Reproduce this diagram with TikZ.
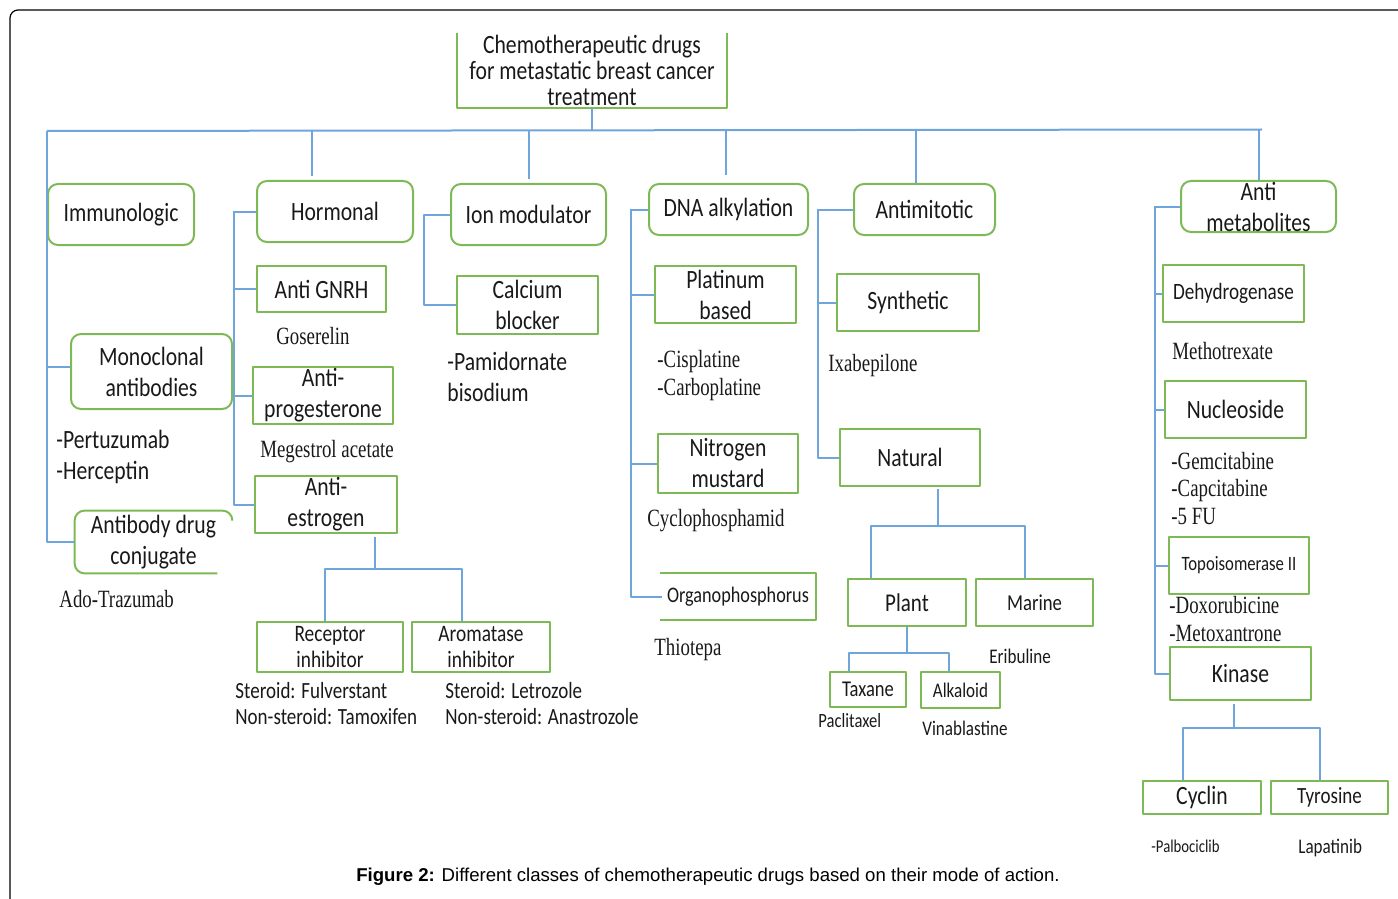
\documentclass[tikz,border=0pt]{standalone}
\usepackage{fontspec}
\setmainfont{Liberation Sans}
\newfontfamily\calfont[FakeStretch=0.82]{Carlito}
\newfontfamily\tnrfont[FakeStretch=0.76]{Liberation Serif}
\newcommand\fsz[2]{\calfont\fontsize{#1}{#2}\selectfont}
\definecolor{boxgreen}{RGB}{125,185,85}
\definecolor{linkblue}{RGB}{110,165,220}
\definecolor{txt}{RGB}{25,25,25}
\begin{document}
\begin{tikzpicture}[x=0.5pt, y=-0.5pt, line join=round,
    every node/.style={text=txt},
    cat/.style={draw=boxgreen, line width=1pt, rounded corners=5pt, align=center, inner sep=0pt, font=\fsz{13.2}{15.5}},
    sub/.style={draw=boxgreen, line width=1pt, align=center, inner sep=0pt, font=\fsz{13.2}{15.5}},
    link/.style={draw=linkblue, line width=1pt},
    drug/.style={anchor=west, align=left, inner sep=0pt, font=\tnrfont\fontsize{12.4}{14}\selectfont},
    note/.style={anchor=west, align=left, inner sep=0pt, font=\fsz{13.2}{15.5}}]
  \useasboundingbox (0,0) rectangle (1398,899);
  \draw[line width=0.6pt, rounded corners=4pt] (10,960) -- (10,10) -- (1460,10);

  % root and main classes
  \node[inner sep=0pt, align=center, minimum width=135pt, minimum height=37.5pt, font=\fsz{13.2}{13}] (root) at (592,70.5)
    {Chemotherapeutic drugs\\for metastatic breast cancer\\treatment};
  \draw[boxgreen, line width=1pt] (root.north west) |- (root.south east) -- (root.north east);
  \node[cat, minimum width=73pt, minimum height=30.5pt] (imm) at (121,214.5) {Immunologic};
  \node[cat, minimum width=78pt, minimum height=30.5pt] (hor) at (335,211.5) {Hormonal};
  \node[cat, minimum width=77.5pt, minimum height=30.5pt] (ion) at (528.5,214.5) {Ion modulator};
  \node[cat, minimum width=79.5pt, minimum height=25.5pt] (dna) at (728.5,209.5) {DNA alkylation};
  \node[cat, minimum width=70.5pt, minimum height=25.5pt] (amit) at (924.5,209.5) {Antimitotic};
  \node[cat, minimum width=77.5pt, minimum height=25.5pt, inner ysep=-3pt] (amet) at (1258.5,206.5) {Anti\\metabolites};

  % immunologic
  \node[cat, minimum width=80.5pt, minimum height=37.5pt] (mono) at (151.5,371.5) {Monoclonal\\antibodies};
  \node[inner sep=0pt, align=center, minimum width=78.5pt, minimum height=31pt, font=\fsz{13.2}{15.5}] (adc) at (153.5,542) {Antibody drug\\conjugate};
  \draw[boxgreen, line width=1pt, rounded corners=5pt] ([xshift=-7.5pt]adc.south east) -- (adc.south west) -- (adc.north west) -- (adc.north east) -- ([yshift=-5pt]adc.north east);
  \node[note] (pert) at (56,456.5) {-Pertuzumab\\-Herceptin};
  \node[drug] (ado) at (59,599) {Ado-Trazumab};

  % hormonal
  \node[sub, minimum width=64.5pt, minimum height=23pt] (gnrh) at (321.5,289) {Anti GNRH};
  \node[sub, minimum width=70pt, minimum height=28.5pt] (aprog) at (323,395.5) {Anti-\\progesterone};
  \node[sub, minimum width=71pt, minimum height=28.5pt] (aestr) at (326,504.5) {Anti-\\estrogen};
  \node[drug, anchor=center] (gos) at (313,336) {Goserelin};
  \node[drug, anchor=center] (meg) at (327,452) {Megestrol acetate};
  \node[sub, minimum width=73pt, minimum height=25pt, font=\fsz{11.8}{13}] (rec) at (330,647) {Receptor\\inhibitor};
  \node[sub, minimum width=69pt, minimum height=25pt, font=\fsz{11.8}{13}] (arom) at (481,647) {Aromatase\\inhibitor};
  \node[note, font=\fsz{11.6}{13}] (ster1) at (235,704) {Steroid: Fulverstant\\Non-steroid: Tamoxifen};
  \node[note, font=\fsz{11.6}{13}] (ster2) at (445,704) {Steroid: Letrozole\\Non-steroid: Anastrozole};

  % ion modulator
  \node[sub, minimum width=70.5pt, minimum height=29pt] (calc) at (527.5,305) {Calcium\\blocker};
  \node[note] (pam) at (447,376.5) {-Pamidornate\\bisodium};

  % DNA alkylation
  \node[sub, minimum width=70.5pt, minimum height=28.5pt] (plat) at (725.5,294.5) {Platinum\\based};
  \node[sub, minimum width=70pt, minimum height=29.5pt] (nitro) at (728,463.5) {Nitrogen\\mustard};
  \node[inner sep=0pt, minimum width=76pt, minimum height=23.5pt, font=\fsz{11.1}{13}] (organo) at (738,596.5) {Organophosphorus};
  \draw[boxgreen, line width=1pt] ([xshift=-1pt]organo.north west) -- ([xshift=1pt]organo.north east) |- ([xshift=-1pt]organo.south west);
  \node[drug] (cis) at (657,376) {-Cisplatine\\-Carboplatine};
  \node[drug] (cyclo) at (647,521) {Cyclophosphamid};
  \node[drug] (thio) at (654,650) {Thiotepa};

  % antimitotic
  \node[sub, minimum width=71pt, minimum height=28.5pt] (syn) at (908,302.5) {Synthetic};
  \node[sub, minimum width=70pt, minimum height=28.5pt] (nat) at (910,457.5) {Natural};
  \node[drug] (ixa) at (828,366) {Ixabepilone};
  \node[sub, minimum width=59pt, minimum height=23.5pt, font=\fsz{12.8}{15}] (plant) at (907,602.5) {Plant};
  \node[sub, minimum width=58.5pt, minimum height=23.5pt, font=\fsz{11.4}{13}] (marine) at (1034.5,602.5) {Marine};
  \node[sub, minimum width=38pt, minimum height=17.5pt, font=\fsz{11.3}{13}] (taxane) at (868,689.5) {Taxane};
  \node[sub, minimum width=39.5pt, minimum height=18pt, font=\fsz{10.4}{13}] (alk) at (960.5,690) {Alkaloid};
  \node[note, font=\fsz{10.4}{13}] (erib) at (989,656) {Eribuline};
  \node[note, font=\fsz{10.1}{13}] (pacl) at (818,721) {Paclitaxel};
  \node[note, font=\fsz{10.4}{13}] (vinb) at (922,728) {Vinablastine};

  % anti metabolites
  \node[sub, minimum width=70.5pt, minimum height=28.5pt, font=\fsz{11.7}{13}] (dehyd) at (1233.5,293.5) {Dehydrogenase};
  \node[sub, minimum width=70.5pt, minimum height=28.5pt] (nucl) at (1235.5,409.5) {Nucleoside};
  \node[sub, minimum width=70pt, minimum height=28.5pt, font=\fsz{10.2}{13}] (topo) at (1239,565.5) {Topoisomerase II};
  \node[sub, minimum width=70.5pt, minimum height=26.5pt] (kin) at (1240.5,673.5) {Kinase};
  \node[sub, minimum width=59pt, minimum height=16.5pt] (cyc) at (1202,797.5) {Cyclin};
  \node[sub, minimum width=58.5pt, minimum height=16.5pt, font=\fsz{11.6}{13}] (tyr) at (1329.5,797.5) {Tyrosine};
  \node[drug] (metho) at (1172,351) {Methotrexate};
  \node[drug, font=\tnrfont\fontsize{12.4}{13.75}\selectfont] (gem) at (1171,488.5) {-Gemcitabine\\-Capcitabine\\-5 FU};
  \node[drug] (doxo) at (1169,619) {-Doxorubicine\\-Metoxantrone};
  \node[note, font=\fsz{9}{11}] (palbo) at (1151,846) {-Palbociclib};
  \node[note, font=\fsz{10.4}{13}] (lapa) at (1298,848) {Lapatinib};

  % main bus
  \coordinate (busL) at (47,131);
  \coordinate (busR) at (1262,129.5);
  \draw[link] (busL) -- (busR);
  \draw[link] (root.south) -- (root.south |- busL);
  \draw[link] ([xshift=-11.5pt]hor.north) ++(0,-4) -- ([xshift=-11.5pt]hor.north |- busL);
  \draw[link] ([yshift=2pt]ion.north) -- (ion.north |- busL);
  \draw[link] ([xshift=-1.5pt, yshift=4pt]dna.north) -- ([xshift=-1.5pt]dna.north |- busL);
  \draw[link] ([xshift=-4.5pt]amit.north) -- ([xshift=-4.5pt]amit.north |- busL);
  \draw[link] (amet.north) -- (amet.north |- busR);

  % branches of each class
  \draw[link] (busL) |- (adc.west);
  \draw[link] ([yshift=2.5pt]mono.west) -- ([yshift=2.5pt]mono.west -| busL);
  \foreach \c in {gnrh,aprog,aestr} \draw[link] (hor.west) -- ++(-22,0) |- (\c.west);
  \draw[link] (ion.west) -- ++(-26,0) |- (calc.west);
  \foreach \c in {plat,nitro,organo} \draw[link] (dna.west) -- ++(-17,0) |- (\c.west);
  \foreach \c in {syn,nat} \draw[link] (amit.west) -- ++(-35,0) |- (\c.west);
  \foreach \c in {dehyd,nucl,topo,kin} \draw[link] (amet.west) -- ++(-25,0) |- (\c.west);

  % T-bars
  \coordinate (aebar) at (375,569);
  \draw[link] (aebar) -- ++(0,-32);
  \draw[link] ([xshift=-2.5pt]rec.north) |- (aebar) -| ([xshift=-9.5pt]arom.north);
  \coordinate (natbar) at (938,526);
  \draw[link] (natbar) -- ++(0,-37);
  \draw[link] ([xshift=-18pt]plant.north) |- (natbar) -| ([xshift=-4.75pt]marine.north);
  \coordinate (plbar) at (907,653);
  \draw[link] (plant.south) -- (plbar);
  \draw[link] ([xshift=-9.5pt]taxane.north) |- (plbar) -| ([xshift=-5.75pt]alk.north);
  \coordinate (kibar) at (1234,728);
  \draw[link] (kibar) -- ++(0,-24);
  \draw[link] ([xshift=-9.5pt]cyc.north) |- (kibar) -| ([xshift=-4.75pt]tyr.north);

  \node[font=\fontsize{9.3}{11}\selectfont, text=black] (cap) at (708,877)
    {\textbf{Figure 2:} Different classes of chemotherapeutic drugs based on their mode of action.};
\end{tikzpicture}
\end{document}
